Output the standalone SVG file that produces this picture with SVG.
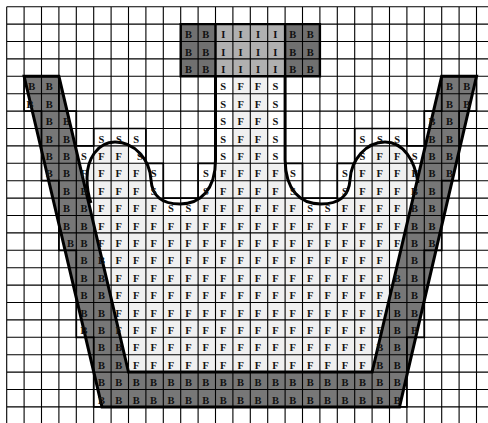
<svg xmlns="http://www.w3.org/2000/svg" width="488" height="423" viewBox="0 0 488 423">
<style>
.t text{font:bold 10.5px "Liberation Serif",serif;text-anchor:middle;fill:#111}
.grid{fill:none;stroke:#000;stroke-width:1.1}
.stair{fill:none;stroke:#000;stroke-width:1.7}
.curve{fill:none;stroke:#000;stroke-width:3}
</style>
<defs><clipPath id="liq"><path d="M215.5 76.3H285.1V160C285.5 190 300 204 321 204C341 204 349 195 350 180C351 160 366 142 385 142C403 142 415 160 418 183L372.1 372.1H128.5L91 203C88 195 87 185 87 178C87 160 97 142 115 142C135 142 150 160 151 180C152 195 160 204 180 204C200 204 215.5 190 215.5 160Z"/></clipPath></defs>
<rect width="488" height="423" fill="#fff"/>
<path id="liquid" clip-path="url(#liq)" fill="#f0f0f0" d="M232.9 76.3H267.7V163.3H232.9ZM93.7 145.9H128.5V163.3H93.7ZM372.1 145.9H406.9V163.3H372.1ZM76.3 163.3H145.9V180.7H76.3ZM215.5 163.3H285.1V180.7H215.5ZM354.7 163.3H424.3V180.7H354.7ZM93.7 180.7H145.9V198.1H93.7ZM215.5 180.7H285.1V198.1H215.5ZM354.7 180.7H406.9V198.1H354.7ZM93.7 198.1H163.3V215.5H93.7ZM198.1 198.1H302.5V215.5H198.1ZM337.3 198.1H406.9V215.5H337.3ZM93.7 215.5H406.9V250.3H93.7ZM111.1 250.3H389.5V337.3H111.1ZM128.5 337.3H372.1V372.1H128.5Z"/>
<path id="wall" fill="#777" d="M24.1 76.3H58.9L128.5 372.1H372.1L441.7 76.3H476.5L399.5 406.9H102Z"/>
<rect x="180.7" y="24.1" width="34.8" height="52.2" fill="#707070"/>
<rect x="215.5" y="24.1" width="69.6" height="52.2" fill="#b0b0b0"/>
<rect x="285.1" y="24.1" width="34.8" height="52.2" fill="#707070"/>
<path class="grid" d="M6.7 6.7V423M24.1 6.7V423M41.5 6.7V423M58.9 6.7V423M76.3 6.7V423M93.7 6.7V423M111.1 6.7V423M128.5 6.7V423M145.9 6.7V423M163.3 6.7V423M180.7 6.7V423M198.1 6.7V423M215.5 6.7V423M232.9 6.7V423M250.3 6.7V423M267.7 6.7V423M285.1 6.7V423M302.5 6.7V423M319.9 6.7V423M337.3 6.7V423M354.7 6.7V423M372.1 6.7V423M389.5 6.7V423M406.9 6.7V423M424.3 6.7V423M441.7 6.7V423M459.1 6.7V423M476.5 6.7V423M6.7 6.7H488M6.7 24.1H488M6.7 41.5H488M6.7 58.9H488M6.7 76.3H488M6.7 93.7H488M6.7 111.1H488M6.7 128.5H488M6.7 145.9H488M6.7 163.3H488M6.7 180.7H488M6.7 198.1H488M6.7 215.5H488M6.7 232.9H488M6.7 250.3H488M6.7 267.7H488M6.7 285.1H488M6.7 302.5H488M6.7 319.9H488M6.7 337.3H488M6.7 354.7H488M6.7 372.1H488M6.7 389.5H488M6.7 406.9H488"/>
<path class="stair" d="M24.1 76.3H58.9V111.1H76.3V145.9H93.7V128.5H145.9V163.3H163.3V198.1H198.1V163.3H215.5V76.3M285.1 76.3V163.3H302.5V198.1H337.3V163.3H354.7V128.5H406.9V145.9H424.3V111.1H441.7V76.3H476.5V111.1H459.1V180.7H441.7V250.3H424.3V337.3H406.9V406.9H93.7V337.3H76.3V250.3H58.9V180.7H41.5V111.1H24.1V76.3"/>
<path fill="none" stroke="#000" stroke-width="2.4" d="M180.7 24.1H319.9V76.3H180.7ZM215.5 24.1V76.3M285.1 24.1V76.3"/>
<path fill="none" stroke="#000" stroke-width="3" d="M24.1 76.3H58.9L128.5 372.1H372.1L441.7 76.3H476.5L399.5 406.9H102Z"/>
<path class="curve" d="M215.5 76.3V160C215.5 190 200 204 180 204C160 204 152 195 151 180C150 160 135 142 115 142C97 142 87 160 87 178C87 185 88 195 91 203M285.1 76.3V160C285.5 190 300 204 321 204C341 204 349 195 350 180C351 160 366 142 385 142C403 142 415 160 418 183"/>
<g class="t" transform="translate(-1 0)">
<g transform="translate(0 38.1)"><text x="189.4">B</text><text x="206.8">B</text><text x="224.2">I</text><text x="241.6">I</text><text x="259">I</text><text x="276.4">I</text><text x="293.8">B</text><text x="311.2">B</text></g>
<g transform="translate(0 55.5)"><text x="189.4">B</text><text x="206.8">B</text><text x="224.2">I</text><text x="241.6">I</text><text x="259">I</text><text x="276.4">I</text><text x="293.8">B</text><text x="311.2">B</text></g>
<g transform="translate(0 72.9)"><text x="189.4">B</text><text x="206.8">B</text><text x="224.2">I</text><text x="241.6">I</text><text x="259">I</text><text x="276.4">I</text><text x="293.8">B</text><text x="311.2">B</text></g>
<g transform="translate(0 90.3)"><text x="32.8">B</text><text x="50.2">B</text><text x="224.2">S</text><text x="241.6">F</text><text x="259">F</text><text x="276.4">S</text><text x="450.4">B</text><text x="467.8">B</text></g>
<g transform="translate(0 107.7)"><text x="31">B</text><text x="50.2">B</text><text x="224.2">S</text><text x="241.6">F</text><text x="259">F</text><text x="276.4">S</text><text x="450.4">B</text><text x="467.8">B</text></g>
<g transform="translate(0 125.1)"><text x="50.2">B</text><text x="67.6">B</text><text x="224.2">S</text><text x="241.6">F</text><text x="259">F</text><text x="276.4">S</text><text x="433">B</text><text x="450.4">B</text></g>
<g transform="translate(0 142.5)"><text x="50.2">B</text><text x="67.6">B</text><text x="102.4">S</text><text x="119.8">S</text><text x="137.2">S</text><text x="224.2">S</text><text x="241.6">F</text><text x="259">F</text><text x="276.4">S</text><text x="363.4">S</text><text x="380.8">S</text><text x="398.2">S</text><text x="433">B</text><text x="450.4">B</text></g>
<g transform="translate(0 159.9)"><text x="50.2">B</text><text x="67.6">B</text><text x="85">S</text><text x="102.4">F</text><text x="119.8">F</text><text x="141">S</text><text x="224.2">S</text><text x="241.6">F</text><text x="259">F</text><text x="276.4">S</text><text x="363.4">S</text><text x="380.8">F</text><text x="398.2">F</text><text x="415.6">S</text><text x="433">B</text><text x="450.4">B</text></g>
<g transform="translate(0 177.3)"><text x="50.2">B</text><text x="67.6">B</text><text x="85">F</text><text x="102.4">F</text><text x="119.8">F</text><text x="137.2">F</text><text x="154.6">S</text><text x="206.8">S</text><text x="224.2">F</text><text x="241.6">F</text><text x="259">F</text><text x="276.4">F</text><text x="293.8">S</text><text x="346">S</text><text x="363.4">F</text><text x="380.8">F</text><text x="398.2">F</text><text x="415.6">F</text><text x="433">B</text><text x="450.4">B</text></g>
<g transform="translate(0 194.7)"><text x="67.6">B</text><text x="85">B</text><text x="102.4">F</text><text x="119.8">F</text><text x="137.2">F</text><text x="154.6">S</text><text x="206.8">S</text><text x="224.2">F</text><text x="241.6">F</text><text x="259">F</text><text x="276.4">F</text><text x="293.8">S</text><text x="346">S</text><text x="363.4">F</text><text x="380.8">F</text><text x="398.2">F</text><text x="415.6">B</text><text x="433">B</text></g>
<g transform="translate(0 212.1)"><text x="67.6">B</text><text x="85">B</text><text x="102.4">F</text><text x="119.8">F</text><text x="137.2">F</text><text x="154.6">F</text><text x="172">S</text><text x="189.4">S</text><text x="206.8">F</text><text x="224.2">F</text><text x="241.6">F</text><text x="259">F</text><text x="276.4">F</text><text x="293.8">F</text><text x="311.2">S</text><text x="328.6">S</text><text x="346">F</text><text x="363.4">F</text><text x="380.8">F</text><text x="398.2">F</text><text x="415.6">B</text><text x="433">B</text></g>
<g transform="translate(0 229.5)"><text x="67.6">B</text><text x="85">B</text><text x="102.4">F</text><text x="119.8">F</text><text x="137.2">F</text><text x="154.6">F</text><text x="172">F</text><text x="189.4">F</text><text x="206.8">F</text><text x="224.2">F</text><text x="241.6">F</text><text x="259">F</text><text x="276.4">F</text><text x="293.8">F</text><text x="311.2">F</text><text x="328.6">F</text><text x="346">F</text><text x="363.4">F</text><text x="380.8">F</text><text x="398.2">F</text><text x="415.6">B</text><text x="433">B</text></g>
<g transform="translate(0 246.9)"><text x="71.6">B</text><text x="85">B</text><text x="102.4">F</text><text x="119.8">F</text><text x="137.2">F</text><text x="154.6">F</text><text x="172">F</text><text x="189.4">F</text><text x="206.8">F</text><text x="224.2">F</text><text x="241.6">F</text><text x="259">F</text><text x="276.4">F</text><text x="293.8">F</text><text x="311.2">F</text><text x="328.6">F</text><text x="346">F</text><text x="363.4">F</text><text x="380.8">F</text><text x="398.2">F</text><text x="415.6">B</text><text x="433">B</text></g>
<g transform="translate(0 264.3)"><text x="85">B</text><text x="102.4">B</text><text x="119.8">F</text><text x="137.2">F</text><text x="154.6">F</text><text x="172">F</text><text x="189.4">F</text><text x="206.8">F</text><text x="224.2">F</text><text x="241.6">F</text><text x="259">F</text><text x="276.4">F</text><text x="293.8">F</text><text x="311.2">F</text><text x="328.6">F</text><text x="346">F</text><text x="363.4">F</text><text x="380.8">F</text><text x="415.6">B</text></g>
<g transform="translate(0 281.7)"><text x="85">B</text><text x="102.4">B</text><text x="119.8">F</text><text x="137.2">F</text><text x="154.6">F</text><text x="172">F</text><text x="189.4">F</text><text x="206.8">F</text><text x="224.2">F</text><text x="241.6">F</text><text x="259">F</text><text x="276.4">F</text><text x="293.8">F</text><text x="311.2">F</text><text x="328.6">F</text><text x="346">F</text><text x="363.4">F</text><text x="380.8">F</text><text x="398.2">B</text><text x="415.6">B</text></g>
<g transform="translate(0 299.1)"><text x="85">B</text><text x="102.4">B</text><text x="119.8">F</text><text x="137.2">F</text><text x="154.6">F</text><text x="172">F</text><text x="189.4">F</text><text x="206.8">F</text><text x="224.2">F</text><text x="241.6">F</text><text x="259">F</text><text x="276.4">F</text><text x="293.8">F</text><text x="311.2">F</text><text x="328.6">F</text><text x="346">F</text><text x="363.4">F</text><text x="380.8">F</text><text x="398.2">B</text><text x="415.6">B</text></g>
<g transform="translate(0 316.5)"><text x="85">B</text><text x="102.4">B</text><text x="119.8">F</text><text x="137.2">F</text><text x="154.6">F</text><text x="172">F</text><text x="189.4">F</text><text x="206.8">F</text><text x="224.2">F</text><text x="241.6">F</text><text x="259">F</text><text x="276.4">F</text><text x="293.8">F</text><text x="311.2">F</text><text x="328.6">F</text><text x="346">F</text><text x="363.4">F</text><text x="380.8">F</text><text x="398.2">B</text><text x="415.6">B</text></g>
<g transform="translate(0 333.9)"><text x="85">B</text><text x="102.4">B</text><text x="119.8">F</text><text x="137.2">F</text><text x="154.6">F</text><text x="172">F</text><text x="189.4">F</text><text x="206.8">F</text><text x="224.2">F</text><text x="241.6">F</text><text x="259">F</text><text x="276.4">F</text><text x="293.8">F</text><text x="311.2">F</text><text x="328.6">F</text><text x="346">F</text><text x="363.4">F</text><text x="380.8">F</text><text x="398.2">B</text><text x="415.6">B</text></g>
<g transform="translate(0 351.3)"><text x="102.4">B</text><text x="119.8">B</text><text x="137.2">F</text><text x="154.6">F</text><text x="172">F</text><text x="189.4">F</text><text x="206.8">F</text><text x="224.2">F</text><text x="241.6">F</text><text x="259">F</text><text x="276.4">F</text><text x="293.8">F</text><text x="311.2">F</text><text x="328.6">F</text><text x="346">F</text><text x="363.4">F</text><text x="380.8">B</text><text x="398.2">B</text></g>
<g transform="translate(0 368.7)"><text x="102.4">B</text><text x="119.8">B</text><text x="137.2">F</text><text x="154.6">F</text><text x="172">F</text><text x="189.4">F</text><text x="206.8">F</text><text x="224.2">F</text><text x="241.6">F</text><text x="259">F</text><text x="276.4">F</text><text x="293.8">F</text><text x="311.2">F</text><text x="328.6">F</text><text x="346">F</text><text x="363.4">F</text><text x="380.8">B</text><text x="398.2">B</text></g>
<g transform="translate(0 386.1)"><text x="102.4">B</text><text x="119.8">B</text><text x="137.2">B</text><text x="154.6">B</text><text x="172">B</text><text x="189.4">B</text><text x="206.8">B</text><text x="224.2">B</text><text x="241.6">B</text><text x="259">B</text><text x="276.4">B</text><text x="293.8">B</text><text x="311.2">B</text><text x="328.6">B</text><text x="346">B</text><text x="363.4">B</text><text x="380.8">B</text><text x="398.2">B</text></g>
<g transform="translate(0 403.5)"><text x="102.4">B</text><text x="119.8">B</text><text x="137.2">B</text><text x="154.6">B</text><text x="172">B</text><text x="189.4">B</text><text x="206.8">B</text><text x="224.2">B</text><text x="241.6">B</text><text x="259">B</text><text x="276.4">B</text><text x="293.8">B</text><text x="311.2">B</text><text x="328.6">B</text><text x="346">B</text><text x="363.4">B</text><text x="380.8">B</text><text x="398.2">B</text></g>
</g>
</svg>
